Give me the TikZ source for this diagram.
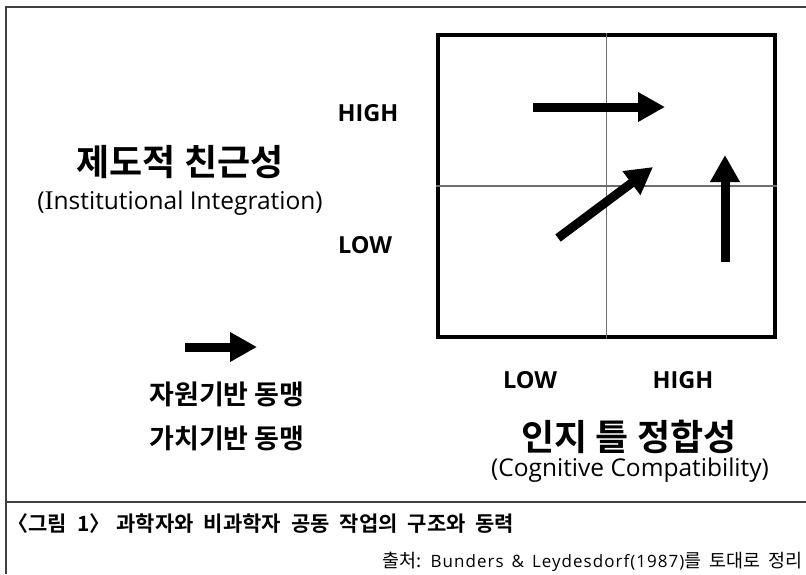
\documentclass[tikz,border=0pt]{standalone}
\usepackage{fontspec}
\setmainfont{Open Sans}
\newfontfamily\kr{Noto Sans CJK KR}[BoldFont={Noto Sans CJK KR Bold}]
\newfontfamily\serifcap{Liberation Serif}
\usetikzlibrary{arrows.meta}
\definecolor{framegray}{RGB}{64,64,64}
\definecolor{gridgray}{RGB}{110,110,110}
\tikzset{
    frame/.style={framegray, line width=2pt},
    level/.style={font=\bfseries\fontsize{23.5}{23.5}\selectfont},
    title/.style={font=\kr\bfseries\fontsize{36}{36}\selectfont},
    subtitle/.style={font=\fontsize{24.5}{24.5}\selectfont},
    legend/.style={font=\kr\bfseries\fontsize{27}{27}\selectfont},
    flow/.style={line width=9pt, -{Triangle[width=28pt, length=27pt]}},
}

\begin{document}
\begin{tikzpicture}[x=1pt, y=-1pt]
    \useasboundingbox (0,0) rectangle (806,574);

    % outer frame and caption rule
    \draw[frame] (806,7) -- (6,7) -- (6,574);
    \draw[frame, line width=1.5pt] (6,502) -- (806,502);

    % the 2x2 grid
    \node[draw, line width=4pt, minimum width=337pt, minimum height=302pt, inner sep=0pt] (grid) at (606.5,186) {};
    \draw[gridgray, line width=1.3pt] (grid.north) -- (grid.south) (grid.west) -- (grid.east);

    % axis levels
    \node[level] (y-high) at (368,113) {HIGH};
    \node[level] (y-low) at (365,245) {LOW};
    \node[level] (x-low) at (530,380) {LOW};
    \node[level] (x-high) at (683,380) {HIGH};

    % axis titles
    \node[title] (inst) at (180,162) {제도적 친근성};
    \node[subtitle] (inst-en) at (180,203) {({\serifcap\fontsize{27}{27}\selectfont I}nstitutional Integration)};
    \node[title] (cog) at (629,437) {인지 틀 정합성};
    \node[subtitle] (cog-en) at (630,470) {(Cognitive Compatibility)};

    % movements inside the grid
    \coordinate (h-start) at (533,107);
    \coordinate (h-end) at (665,107);
    \coordinate (d-start) at (558,238);
    \coordinate (d-end) at (653,167);
    \coordinate (v-start) at (725,262);
    \coordinate (v-end) at (725,155);
    \draw[flow] (h-start) -- (h-end);
    \draw[flow] (d-start) -- (d-end);
    \draw[flow] (v-start) -- (v-end);

    % legend
    \coordinate (key-start) at (185,347);
    \coordinate (key-end) at (257,347);
    \draw[flow] (key-start) -- (key-end);
    \node[legend] (resource) at (227,394) {자원기반 동맹};
    \node[legend] (value) at (227,438) {가치기반 동맹};

    % caption and source
    \node[anchor=west, font=\kr\bfseries\fontsize{21}{21}\selectfont] (caption) at (4,524)
        {\spaceskip=10pt\relax 〈그림 1〉\hspace{-4pt} 과학자와 비과학자 공동 작업의 구조와 동력};
    \node[anchor=east, font=\kr\fontsize{18.5}{18.5}\selectfont] (source) at (806,562)
        {\spaceskip=8pt\relax 출처: {\rmfamily\fontsize{17}{17}\selectfont\addfontfeature{LetterSpace=6}Bunders \& Leydesdorf(1987)}를 토대로 정리};
\end{tikzpicture}
\end{document}
